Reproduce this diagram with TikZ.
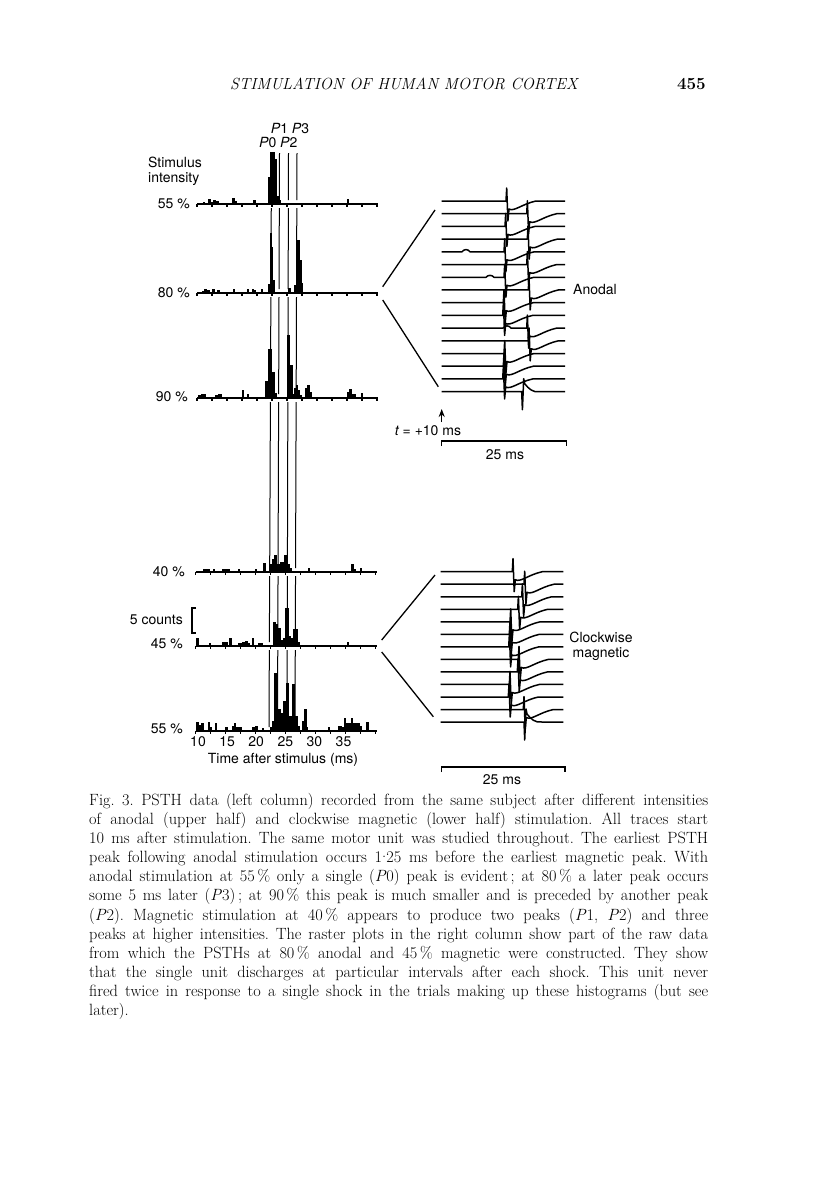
\documentclass[tikz,border=0pt]{standalone}
\usepackage{fontspec}
\newfontfamily\hv{TeX Gyre Heros}
\usetikzlibrary{arrows.meta}
\tikzset{
  axisln/.style={line width=1.6pt},
  pline/.style={line width=1pt},
  trace/.style={line width=1.5pt, line join=round},
  fan/.style={line width=1.3pt},
  lab/.style={inner sep=0pt, font=\hv\fontsize{14}{16}\selectfont},
  capl/.style={inner sep=0pt, anchor=base west, font=\fontsize{16.3}{18}\selectfont},
}
\newcommand{\histo}[2]{\foreach \a/\b/\h in {#2} {\fill (\a,#1) rectangle (\b,{#1-\h});}}
\newcommand{\haxis}[2]{\draw[axisln] (#2,#1) -- ({#2+181},#1);
  \foreach \k in {0,...,12} {\draw[line width=1.2pt] ({#2+15*\k},#1) -- ++(0,2.5);}}
% A-type trace: x1 x2 y spike bumpx bumpamp
\newcommand{\trA}[6]{\draw[trace] (#1,#3) -- ({#5-4},#3) .. controls ({#5-2},{#3-#6}) and ({#5+2},{#3-#6}) .. ({#5+4},#3)
  -- (#4,#3) -- ({#4+0.7},{#3-13}) -- ({#4+1.9},{#3+20}) -- ({#4+3},{#3+8})
  .. controls ({#4+8},{#3+11}) and ({#4+16},{#3+3}) .. ({#4+30},#3) -- (#2,#3);}
% B-type trace (inverted spike)
\newcommand{\trB}[4]{\draw[trace] (#1,#3) -- (#4,#3) -- ({#4+0.7},{#3+18}) -- ({#4+2},{#3-13}) -- ({#4+3},{#3-8})
  .. controls ({#4+7},{#3-3}) and ({#4+11},{#3+1}) .. ({#4+18},#3) -- (#2,#3);}
\begin{document}
\begin{tikzpicture}[x=1pt,y=-1pt]
\fill[white] (0,0) rectangle (816,1183);
\useasboundingbox (0,0) rectangle (816,1183);

% running head
\node[anchor=base west, inner sep=0] (hdr) at (230,89) {\fontsize{16.1}{20}\selectfont\itshape STIMULATION OF HUMAN MOTOR CORTEX};
\node[anchor=base east, inner sep=0] (pg) at (706,89) {\fontsize{17}{20}\selectfont\bfseries 455};

% peak marker lines
\foreach \xt/\xb in {271.5/269, 279.5/277.5, 288.5/287, 297/295}{
  \foreach \ya/\yb in {153/200, 208/289, 297/394, 402/568, 576/642, 650/727}{
    \draw[pline] ({\xt+(\xb-\xt)*(\ya-153)/574},\ya) -- ({\xt+(\xb-\xt)*(\yb-153)/574},\yb);
  }
}

% axes
\haxis{204}{197}
\haxis{293}{197}
\haxis{398}{197}
\haxis{572}{195.5}
\haxis{646}{195.5}
\haxis{731}{195.5}

% histograms
\histo{204}{203/205/2, 208/211/5, 211/213/2, 213/216/4, 216/219/3, 232/235/6, 235/237/3, 253/256/4, 268.3/270/27, 270/275/52, 275/276.7/45, 276.7/279/8, 279/280.5/4, 346.5/349/5}
\histo{293}{202/204/2, 204/207/4, 207/210/3, 212/215/4, 217/220/3, 233/235/4, 247/249/4, 252/254/4, 254/256/3, 261/263/4, 268.3/270/9, 270/271.7/60, 271.7/273.3/46, 273.3/275/13, 288/291/5, 294.3/296/8, 296/300/53, 300/301.7/33, 301.7/303.3/10}
\histo{398}{198/201/3, 201/206/4, 215/218/3, 218/222/4, 242/244/8, 247/249/4, 265/268/17, 268/272/49, 272/275/26, 275/277/5, 286.7/290/63, 290/292.7/33, 292.7/294/4, 294/296/10, 296/298/13, 298/300/8, 300/301.7/3, 305/307/10, 307/310/13, 310/312/6, 347/349/6, 349/352/9, 352/356/4, 361/363/5}
\histo{572}{203/206/3, 206/210/3, 213/215/3, 222/226/3, 226/230/3, 238/240/3, 255/257/3, 263/266/9, 269/272/8, 272/274/13, 274/277/17, 277/280/8, 280/284/10, 284/288/17, 288/290/8, 290/292/4, 308/310/4, 351/354/8, 354/356/3, 360/362/4}
\histo{646}{196/198.5/8, 209/211/3, 222/225/4, 225/228/4, 229/232/8, 238/242/3, 242/245/4, 245/248/5, 248/250/3, 252/254/8, 258/260/3, 260/263/3, 273/276/24, 276/278/22, 278/281/18, 281/283/6, 283/285/8, 285/289/38, 289/291/10, 291/293/8, 293/298/17, 298/300/4, 347/349/4}
\histo{731}{196/199/9, 199/201/6, 201/204/8, 208/210/9, 210/212/4, 215/217/8, 225/228/4, 232/234/5, 234/236/8, 236/239/4, 239/242/4, 252/255/4, 255/258/5, 262/264/3, 270/272/4, 272/274/10, 274/278/58, 278/281/22, 281/283/18, 283/286/30, 286/289/48, 289/292/15, 292/295/47, 295/298/15, 298/300/5, 302/304/10, 304/307/22, 307/308/4, 328/330/4, 338/342/5, 342/344/4, 344/346/13, 346/351/8, 351/353/13, 353/360/8, 360/362/5, 366/369/9}

% left labels
\node[lab, anchor=west, align=left] (stim) at (148,171) {Stimulus\\[-1pt]intensity};
\node[lab, anchor=east] (a55) at (190,204) {55 \%};
\node[lab, anchor=east] (a80) at (190,293) {80 \%};
\node[lab, anchor=east] (a90) at (188,397) {90 \%};
\node[lab, anchor=east] (m40) at (185,572) {40 \%};
\node[lab, anchor=east] (cnt) at (183,620) {5 counts};
\node[lab, anchor=east] (m45) at (183,644) {45 \%};
\node[lab, anchor=east] (m55) at (183,729) {55 \%};
\draw[line width=1.2pt] (196,608) -- (192,608) -- (192,633) -- (196,633);

% peak labels
\node[lab] (p13) at (290,129) {{\itshape P}1 {\itshape P}3};
\node[lab] (p02) at (278.3,143) {{\itshape P}0 {\itshape P}2};

% time axis labels
\foreach \v [count=\i from 0] in {10,15,20,25,30,35} {\node[lab] (tk\i) at ({198+29.1*\i},742) {\v};}
\node[lab] (tlab) at (283,760) {Time after stimulus (ms)};

% fan lines
\coordinate (fa1) at (382.7,286.7); \coordinate (fa2) at (435,210);
\coordinate (fa3) at (382.7,300);   \coordinate (fa4) at (438.3,386.7);
\coordinate (fm1) at (381.7,640);   \coordinate (fm2) at (435,575);
\coordinate (fm3) at (381.7,652);   \coordinate (fm4) at (433.3,716.7);
\draw[fan] (fa1) -- (fa2);
\draw[fan] (fa3) -- (fa4);
\draw[fan] (fm1) -- (fm2);
\draw[fan] (fm3) -- (fm4);

% anodal raster
\foreach \sx/\bx/\ba [count=\i from 0] in {506/470/0, 526.7/470/0, 505/470/0, 527.3/470/0, 504/466/3, 526.7/470/0, 504/490/2.5, 528.3/470/0, 503.3/470/0, 502.7/470/0, 526.7/507/3, 528.3/470/0, 504/470/0, 503.3/470/0, 502.7/470/0}{
  \pgfmathsetmacro\yy{201+12.71*\i}
  \trA{441.7}{565}{\yy}{\sx}{\bx}{\ba}
}
\trB{441.7}{565}{391.7}{521.7}

% magnetic raster
\foreach \sx [count=\i from 0] in {512.3, 524, 521.7, 517.7, 510, 509.3, 508.7, 518.3, 517.3, 509.3, 508.3, 523.3}{
  \pgfmathsetmacro\yy{571.7+12.53*\i}
  \trA{440.7}{563.3}{\yy}{\sx}{470}{0}
}
\trB{440.7}{563.3}{722}{524}

% raster labels
\node[lab, anchor=west] (anod) at (573,289) {Anodal};
\node[lab, align=center] (clk) at (601,646.5) {Clockwise\\[-1pt]magnetic};

% arrow and scale bars
\coordinate (arB) at (441.7,422);
\coordinate (arT) at (441.7,409);
\draw[line width=1.4pt, -{Stealth[length=8pt,width=6pt]}] (arB) -- (arT);
\node[lab] (tpl) at (428,431) {{\itshape t} = +10 ms};
\draw[line width=1.2pt] (441.7,446) -- (441.7,441) -- (566.7,441) -- (566.7,446);
\node[lab] (s1) at (505,455) {25 ms};
\draw[line width=1.2pt] (441.7,772) -- (441.7,767) -- (565,767) -- (565,772);
\node[lab] (s2) at (502,780) {25 ms};

% caption
\foreach \t [count=\i from 0] in {
 {Fig. 3. PSTH data (left column) recorded from the same subject after different intensities},
 {of anodal (upper half) and clockwise magnetic (lower half) stimulation. All traces start},
 {10 ms after stimulation. The same motor unit was studied throughout. The earliest PSTH},
 {peak following anodal stimulation occurs 1\raisebox{0.28em}{.}25 ms before the earliest magnetic peak. With},
 {anodal stimulation at 55\,\% only a single (\textit{P}0) peak is evident\,; at 80\,\% a later peak occurs},
 {some 5 ms later (\textit{P}3)\,; at 90\,\% this peak is much smaller and is preceded by another peak},
 {(\textit{P}2). Magnetic stimulation at 40\,\% appears to produce two peaks (\textit{P}1, \textit{P}2) and three},
 {peaks at higher intensities. The raster plots in the right column show part of the raw data},
 {from which the PSTHs at 80\,\% anodal and 45\,\% magnetic were constructed. They show},
 {that the single unit discharges at particular intervals after each shock. This unit never},
 {fired twice in response to a single shock in the trials making up these histograms (but see}}{
  \node[capl] (cap\i) at (89,{805+19.18*\i}) {\frenchspacing\makebox[619pt][s]{\t}};
}
\node[capl] (cap11) at (89,{805+19.18*11}) {later).};
\end{tikzpicture}
\end{document}
